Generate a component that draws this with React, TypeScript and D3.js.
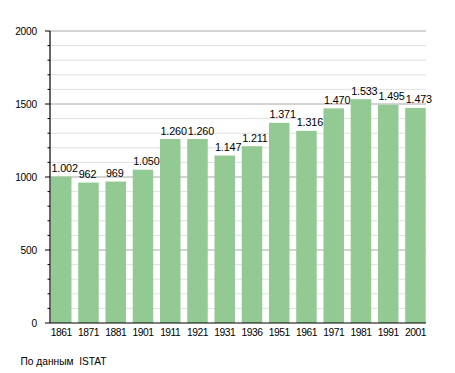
import React from "react";
import * as d3 from "d3";

const years = ["1861", "1871", "1881", "1901", "1911", "1921", "1931", "1936", "1951", "1961", "1971", "1981", "1991", "2001"];
const population = [1002, 962, 969, 1050, 1260, 1260, 1147, 1211, 1371, 1316, 1470, 1533, 1495, 1473];
const valueLabels = ["1.002", "962", "969", "1.050", "1.260", "1.260", "1.147", "1.211", "1.371", "1.316", "1.470", "1.533", "1.495", "1.473"];
const majorTicks = [0, 500, 1000, 1500, 2000];
const sourceNote = "По данным  ISTAT";

const W = 455;
const H = 373;
const left = 50;
const right = 426;
const top = 31;
const bottom = 323;
const font = "'Liberation Sans', Arial, Helvetica, sans-serif";

export default function App() {
  const x = d3.scaleBand<string>().domain(years).range([51, 425.7]).paddingInner(0.248).paddingOuter(0);
  const y = d3.scaleLinear().domain([0, 2000]).range([bottom, top]);
  const minorTicks = d3.range(0, 2001, 100).filter((v) => v % 500 !== 0);

  return (
    <svg width={W} height={H} style={{ position: "absolute", left: 0, top: 0, background: "#fff" }} fontFamily={font}>
      {minorTicks.map((v) => (
        <g key={"m" + v}>
          <line x1={left} x2={right} y1={y(v)} y2={y(v)} stroke="#e0e0e0" strokeWidth={1} />
          <line x1={left - 2.5} x2={left} y1={y(v)} y2={y(v)} stroke="#000" strokeWidth={1} />
        </g>
      ))}
      {majorTicks.map((v) => (
        <g key={"M" + v}>
          {v > 0 && <line x1={left} x2={right} y1={y(v)} y2={y(v)} stroke="#a8a8a8" strokeWidth={1} />}
          <line x1={left - 5} x2={left} y1={y(v)} y2={y(v)} stroke="#000" strokeWidth={1} />
          <text x={37} y={y(v) + 3.7} textAnchor="end" fontSize={10.2} letterSpacing={-0.2} fill="#000">
            {v}
          </text>
        </g>
      ))}
      {population.map((v, i) => (
        <rect key={years[i]} x={x(years[i])} y={y(v)} width={x.bandwidth()} height={bottom - y(v)} fill="#93ca93" />
      ))}
      {population.map((v, i) => (
        <text key={"v" + i} x={(x(years[i]) as number) + 0.5} y={y(v) - 4.5} fontSize={10.8} letterSpacing={-0.15} fill="#000">
          {valueLabels[i]}
        </text>
      ))}
      <line x1={left} x2={left} y1={top} y2={bottom} stroke="#000" strokeWidth={1.2} />
      <line x1={left} x2={right} y1={bottom} y2={bottom} stroke="#000" strokeWidth={1.2} />
      {years.map((yr) => (
        <text key={"x" + yr} x={(x(yr) as number) + x.bandwidth() / 2} y={335.5} textAnchor="middle" fontSize={10.3} letterSpacing={-0.5} fill="#000">
          {yr}
        </text>
      ))}
      <text x={20.5} y={365} fontSize={10.2} fill="#000" style={{ whiteSpace: "pre" }}>
        {sourceNote}
      </text>
    </svg>
  );
}
